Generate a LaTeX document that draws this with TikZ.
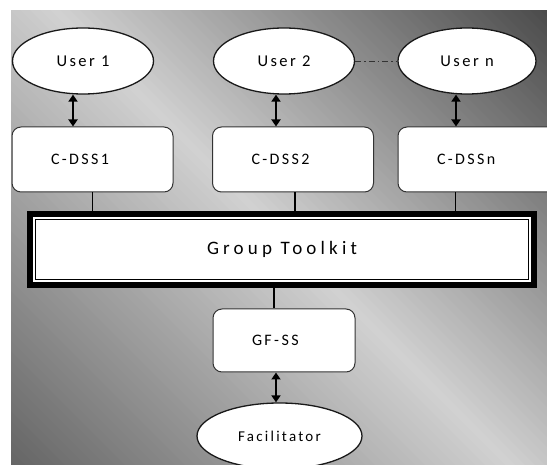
\documentclass[tikz,border=0pt]{standalone}
\usepackage{fontspec}
\setmainfont{Carlito}[LetterSpace=15]
\usepackage{tikz}
\usetikzlibrary{shapes,arrows.meta,positioning,calc}

\begin{document}
\begin{tikzpicture} [
    x=1pt, y=-1pt, >={Triangle[width=9pt,length=7pt]},
    user/.style = {ellipse,draw=black!90,line width=1.3pt,fill=white,minimum width=141,minimum height=66,inner sep=0,font=\fontsize{16.5}{19}\selectfont},
    box/.style = {rectangle,rounded corners=9pt,draw=black!80,line width=1pt,fill=white,minimum width=161,minimum height=65,
                  align=left,text width=83,inner xsep=39,font=\fontsize{16}{19}\selectfont},
    frame/.style = {rectangle,draw=black,line width=6pt,outer sep=0pt,fill=white,minimum width=504,minimum height=71,
                    font=\fontsize{19}{22}\selectfont\addfontfeature{LetterSpace=22}},
    link/.style = {line width=1.1pt},
    arr/.style = {<->,line width=2pt}
    ]

    \useasboundingbox (0,0) rectangle (547,465);
    \clip (0,0) rectangle (547,465);

    % grey background, dark in two corners, light along the diagonal
    \begin{scope}
        \clip (11,11) rectangle (547,465);
        \foreach \s in {-460,-450,...,540}
            {
                \pgfmathsetmacro{\c}{ifthenelse(\s<41, 60-(\s+454)/495*42, 18+(\s-41)/495*53)}
                \fill[black!\c] (-600,-600-\s) -- (1200,1200-\s) -- (1200,1189-\s) -- (-600,-611-\s) -- cycle;
            }
    \end{scope}

    \def \xarray{{83, 284, 467}}
    \def \yarray{{61, 159.5, 249.5, 340.5, 436}}

    \node (u1) [user] at (\xarray[0], \yarray[0]) {User 1};
    \node (u2) [user] at (\xarray[1], \yarray[0]) {User 2};
    \node (un) [user,minimum width=138] at (\xarray[2], \yarray[0]) {User n};

    \node (dss1) [box] at (92.5, \yarray[1]) {C-DSS1};
    \node (dss2) [box] at (293, \yarray[1]) {C-DSS2};
    \node (dssn) [box] at (478.5, \yarray[1]) {C-DSSn};

    \node (tk) [frame] at (282, \yarray[2]) {Group Toolkit};
    \draw[line width=1.4pt] ([xshift=5.5pt,yshift=-5.5pt]tk.north west) rectangle ([xshift=-5.5pt,yshift=5.5pt]tk.south east);

    \node (gf) [box,minimum width=142,minimum height=63,text width=64] at (284, \yarray[3]) {GF-SS};
    \node (fac) [user,minimum width=165,font=\fontsize{15}{18}\selectfont] at (279.5, \yarray[4]) {Facilitator};

    \foreach \n/\dx/\ax in {1/0/-10, 2/2/-8, n/-23/-11}
        {
            \draw[arr] ([xshift=\ax pt]u\n.south) -- ([xshift=\ax pt]u\n.south |- dss\n.north);
            \draw[link] ([xshift=\dx pt]dss\n.south) -- ([xshift=\dx pt]dss\n.south |- tk.north);
        }

    \draw[black!80,line width=0.8pt,dash pattern=on 6pt off 3pt on 1.5pt off 3pt] (u2.east) -- (un.west);

    \draw[link] ([xshift=-10pt]gf.north) -- ([xshift=-10pt]gf.north |- tk.south);
    \draw[arr] ([xshift=-8pt]gf.south) -- ([xshift=-8pt]gf.south |- fac.north);

\end{tikzpicture}
\end{document}
